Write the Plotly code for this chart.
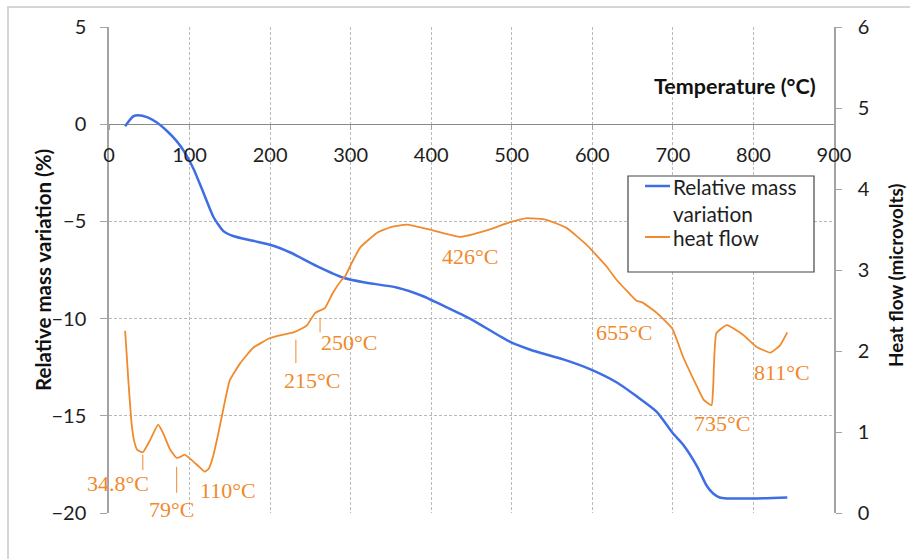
import plotly.graph_objects as go

# Thermogravimetric curve: relative mass variation (%) vs temperature (°C)
temp_mass = [20, 30, 36, 48, 59, 72, 84, 94, 105, 117, 130, 142, 154, 179, 204, 225, 258, 291, 316, 357,
             390, 411, 448, 498, 523, 564, 597, 631, 655, 680, 700, 713, 730, 742, 750, 758, 767, 800, 842]
mass_var = [-0.1, 0.4, 0.46, 0.35, 0.1, -0.35, -0.87, -1.45, -2.3, -3.5, -4.8, -5.5, -5.75, -6.0, -6.25,
            -6.6, -7.3, -7.9, -8.13, -8.4, -8.85, -9.26, -10.0, -11.2, -11.6, -12.1, -12.6, -13.3, -14.0,
            -14.8, -15.9, -16.5, -17.6, -18.6, -19.0, -19.2, -19.25, -19.25, -19.2]

# Differential thermal curve: heat flow (microvolts) vs temperature (°C)
temp_hf = [20, 22, 24, 28, 31, 35, 42, 51, 61, 67, 76, 84, 90, 94, 103, 112, 119, 124, 129, 135,
           140, 150, 163, 179, 200, 215, 229, 240, 246, 256, 268, 278, 289, 293, 302, 312, 333, 350, 370, 402,
           436, 469, 498, 519, 543, 568, 593, 618, 630, 645, 655, 662, 680, 699, 713, 730, 738, 748, 750, 754,
           767, 787, 804, 821, 833, 842]
heat_flow = [2.25, 1.95, 1.64, 1.11, 0.9, 0.78, 0.75, 0.9, 1.09, 0.99, 0.78, 0.68, 0.70, 0.72, 0.65, 0.57,
             0.51, 0.55, 0.69, 0.95, 1.19, 1.64, 1.85, 2.04, 2.16, 2.2, 2.23, 2.28, 2.32, 2.47, 2.53, 2.72,
             2.88, 2.92, 3.1, 3.28, 3.46, 3.53, 3.56, 3.49, 3.41, 3.49, 3.59, 3.64, 3.62, 3.52, 3.31, 3.04,
             2.88, 2.72, 2.62, 2.6, 2.47, 2.28, 1.92, 1.56, 1.40, 1.33, 1.56, 2.22, 2.32, 2.20, 2.05, 1.98,
             2.07, 2.23]

# Peak labels on the heat-flow curve: text, label position (T, heat flow), optional leader line
peak_labels = ["34.8°C", "79°C", "110°C", "215°C", "250°C", "426°C", "655°C", "735°C", "811°C"]
label_x = [11, 78, 148, 252, 298, 448, 639, 761, 835]
label_y = [0.36, 0.04, 0.28, 1.64, 2.10, 3.17, 2.23, 1.11, 1.74]
leader_x = [42, 84, None, 232, 262, None, None, None, None]
leader_y0 = [0.53, 0.25, None, 1.85, 2.23, None, None, None, None]
leader_y1 = [0.72, 0.57, None, 2.14, 2.41, None, None, None, None]

BLUE = "#3d6ee3"
ORANGE = "#f08a2c"
GRID = "#b9b9b9"
AXIS = "#a3a3a3"
TICK_FONT = dict(family="Lato", size=20, color="#1e1e1e")

# Plot area in pixels: x 109..834, y 27..513
L, R, T, B = 109, 834, 27, 513


def px(x):
    return (x - L) / (R - L)


def py(y):
    return (B - y) / (B - T)


fig = go.Figure()
fig.add_trace(go.Scatter(x=temp_mass, y=mass_var, mode="lines", name="Relative mass variation",
                         line=dict(color=BLUE, width=2.5, shape="spline", smoothing=0.6),
                         yaxis="y", showlegend=False))
fig.add_trace(go.Scatter(x=temp_hf, y=heat_flow, mode="lines", name="heat flow",
                         line=dict(color=ORANGE, width=1.8, shape="spline", smoothing=0.4),
                         yaxis="y2", showlegend=False))

annotations = []
shapes = []
for txt, lx, ly, tx, y0, y1 in zip(peak_labels, label_x, label_y, leader_x, leader_y0, leader_y1):
    annotations.append(dict(x=lx, y=ly, xref="x", yref="y2", text=txt, showarrow=False,
                            font=dict(family="Liberation Serif", size=22, color=ORANGE),
                            xanchor="center", yanchor="middle"))
    if tx is not None:
        shapes.append(dict(type="line", xref="x", yref="y2", x0=tx, x1=tx, y0=y0, y1=y1,
                           line=dict(color=ORANGE, width=1)))

# Axis titles
annotations.append(dict(x=px(43), y=py(270), xref="paper", yref="paper", text="<b>Relative mass variation (%)</b>",
                        textangle=-90, showarrow=False, font=dict(family="Lato", size=20.5, color="#111111"),
                        xanchor="center", yanchor="middle"))
annotations.append(dict(x=px(895), y=py(276), xref="paper", yref="paper", text="<b>Heat flow (microvolts)</b>",
                        textangle=-90, showarrow=False, font=dict(family="Lato", size=18.8, color="#111111"),
                        xanchor="center", yanchor="middle"))
annotations.append(dict(x=px(818), y=py(86), xref="paper", yref="paper", text="<b>Temperature (°C)</b>",
                        showarrow=False, font=dict(family="Lato", size=21.5, color="#111111"),
                        xanchor="right", yanchor="middle"))

# Legend box
shapes.append(dict(type="rect", xref="paper", yref="paper", x0=px(628), x1=px(814), y0=py(272), y1=py(176),
                   line=dict(color="#454545", width=1.2), fillcolor="white", layer="above"))
shapes.append(dict(type="line", xref="paper", yref="paper", x0=px(645), x1=px(670), y0=py(186), y1=py(186),
                   line=dict(color=BLUE, width=2.5), layer="above"))
shapes.append(dict(type="line", xref="paper", yref="paper", x0=px(645), x1=px(670), y0=py(237), y1=py(237),
                   line=dict(color=ORANGE, width=2), layer="above"))
for txt, yy in [("Relative mass", 186), ("variation", 214), ("heat flow", 237)]:
    annotations.append(dict(x=px(671), y=py(yy), xref="paper", yref="paper", text=txt, showarrow=False,
                            font=dict(family="Lato", size=20.8, color="#1e1e1e"), xanchor="left", yanchor="middle"))

# Outer frame
shapes.append(dict(type="rect", xref="paper", yref="paper", x0=px(8), x1=px(930), y0=py(580), y1=py(7),
                   line=dict(color="#d6d6d6", width=2), layer="below"))

fig.update_layout(
    width=910, height=559,
    margin=dict(l=L, r=910 - R, t=T, b=559 - B),
    paper_bgcolor="white", plot_bgcolor="white",
    showlegend=False,
    xaxis=dict(range=[0, 900], dtick=100, tick0=0, anchor="free", position=0.8,
               showgrid=True, gridcolor=GRID, griddash="3px,2px", gridwidth=1,
               zeroline=False, showline=False, ticks="outside", ticklen=5, tickcolor=AXIS,
               tickfont=TICK_FONT, ticklabelstandoff=8),
    yaxis=dict(range=[-20, 5], dtick=5, tick0=0, showgrid=True, gridcolor=GRID, griddash="3px,2px",
               gridwidth=1, zeroline=True, zerolinecolor="#8a8a8a", zerolinewidth=1,
               showline=True, linecolor=AXIS, linewidth=1.5, ticks="outside", ticklen=7, tickcolor=AXIS,
               tickfont=TICK_FONT, ticklabelstandoff=10),
    yaxis2=dict(range=[0, 6], dtick=1, tick0=0, overlaying="y", side="right", showgrid=False,
                zeroline=False, showline=True, linecolor=AXIS, linewidth=1.5, ticks="outside",
                ticklen=6, tickcolor=AXIS, tickfont=TICK_FONT, ticklabelstandoff=12),
    annotations=annotations,
    shapes=shapes,
)

fig.write_html("out.html")
